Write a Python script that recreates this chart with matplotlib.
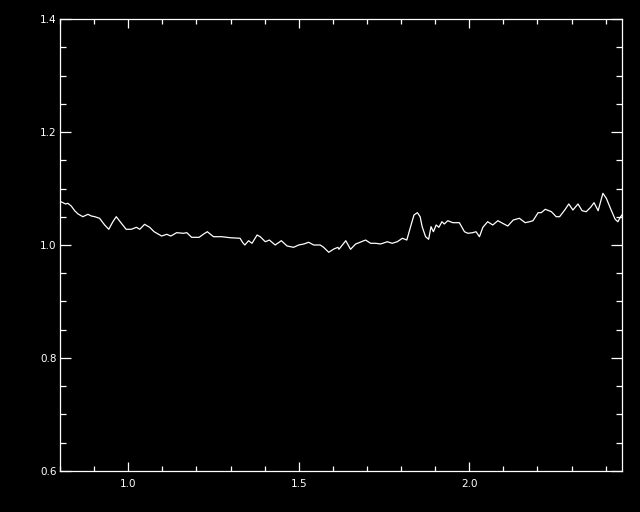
import matplotlib
matplotlib.use("Agg")
import matplotlib.pyplot as plt
from matplotlib.ticker import MultipleLocator, FixedLocator

######################### DATA #########################

wavelength = [
    0.802, 0.809, 0.816, 0.823, 0.833, 0.843, 0.853, 0.867, 0.882, 0.892,
    0.902, 0.916, 0.931, 0.943, 0.955, 0.965, 0.980, 0.994, 1.009, 1.024,
    1.034, 1.048, 1.063, 1.076, 1.098, 1.113, 1.125, 1.142, 1.162, 1.172,
    1.186, 1.208, 1.220, 1.232, 1.250, 1.274, 1.299, 1.328, 1.336, 1.342,
    1.353, 1.363, 1.378, 1.387, 1.402, 1.414, 1.431, 1.449, 1.466, 1.485,
    1.500, 1.515, 1.529, 1.544, 1.563, 1.573, 1.588, 1.603, 1.615, 1.618,
    1.638, 1.652, 1.667, 1.677, 1.696, 1.711, 1.726, 1.740, 1.760, 1.774,
    1.789, 1.804, 1.817, 1.828, 1.838, 1.848, 1.856, 1.862, 1.872, 1.881,
    1.888, 1.895, 1.903, 1.911, 1.920, 1.927, 1.937, 1.952, 1.971, 1.986,
    1.996, 2.010, 2.020, 2.030, 2.040, 2.054, 2.069, 2.084, 2.098, 2.113,
    2.129, 2.147, 2.164, 2.177, 2.187, 2.202, 2.211, 2.223, 2.241, 2.255,
    2.265, 2.280, 2.292, 2.304, 2.319, 2.331, 2.343, 2.356, 2.366, 2.378,
    2.392, 2.402, 2.417, 2.428, 2.436, 2.444, 2.448,
]

ratio = [
    1.0766, 1.0749, 1.0726, 1.0738, 1.0690, 1.0607, 1.0549, 1.0501, 1.0543, 1.0513,
    1.0501, 1.0473, 1.0354, 1.0278, 1.0412, 1.0501, 1.0384, 1.0278, 1.0278, 1.0313,
    1.0278, 1.0366, 1.0313, 1.0235, 1.0159, 1.0189, 1.0159, 1.0218, 1.0207, 1.0218,
    1.0136, 1.0136, 1.0189, 1.0235, 1.0147, 1.0147, 1.0129, 1.0119, 1.0041, 1.0000,
    1.0076, 1.0030, 1.0177, 1.0147, 1.0058, 1.0088, 1.0000, 1.0076, 0.9982, 0.9959,
    1.0000, 1.0018, 1.0048, 1.0000, 1.0000, 0.9959, 0.9871, 0.9929, 0.9959, 0.9924,
    1.0076, 0.9924, 1.0018, 1.0041, 1.0088, 1.0030, 1.0030, 1.0018, 1.0058, 1.0030,
    1.0058, 1.0119, 1.0088, 1.0324, 1.0531, 1.0572, 1.0501, 1.0324, 1.0147, 1.0101,
    1.0324, 1.0235, 1.0354, 1.0313, 1.0412, 1.0372, 1.0430, 1.0395, 1.0395, 1.0235,
    1.0207, 1.0218, 1.0235, 1.0147, 1.0313, 1.0412, 1.0354, 1.0430, 1.0384, 1.0336,
    1.0442, 1.0473, 1.0395, 1.0412, 1.0430, 1.0572, 1.0572, 1.0632, 1.0589, 1.0501,
    1.0501, 1.0619, 1.0726, 1.0619, 1.0726, 1.0607, 1.0589, 1.0667, 1.0749, 1.0607,
    1.0915, 1.0827, 1.0607, 1.0455, 1.0412, 1.0501, 1.0531,
]

x_major = [1.0, 1.5, 2.0]
y_major = [0.6, 0.8, 1.0, 1.2, 1.4]

######################### PLOT #########################

plt.rcParams.update({
    "font.family": "DejaVu Sans",
    "font.size": 7.5,
})

fig = plt.figure(figsize=(6.4, 5.12), dpi=100)
fig.patch.set_facecolor("black")
ax = fig.add_axes([60 / 640, 41 / 512, 562 / 640, 452 / 512])
ax.set_facecolor("black")

ax.plot(wavelength, ratio, color="white", linewidth=0.9)

ax.set_xlim(0.8, 2.448)
ax.set_ylim(0.6, 1.4)

ax.xaxis.set_major_locator(FixedLocator(x_major))
ax.xaxis.set_minor_locator(MultipleLocator(0.1))
ax.yaxis.set_major_locator(FixedLocator(y_major))
ax.yaxis.set_minor_locator(MultipleLocator(0.05))
ax.set_xticklabels([f"{v:.1f}" for v in x_major])
ax.set_yticklabels([f"{v:.1f}" for v in y_major])

for spine in ax.spines.values():
    spine.set_color("white")
    spine.set_linewidth(0.9)

ax.tick_params(which="both", direction="in", colors="white",
               top=True, right=True, width=0.9)
ax.tick_params(axis="x", which="major", length=6.5, pad=6)
ax.tick_params(axis="x", which="minor", length=3.6)
ax.tick_params(axis="y", which="major", length=8, pad=2.5)
ax.tick_params(axis="y", which="minor", length=4.3)

fig.savefig("out.png", dpi=100, facecolor="black")
